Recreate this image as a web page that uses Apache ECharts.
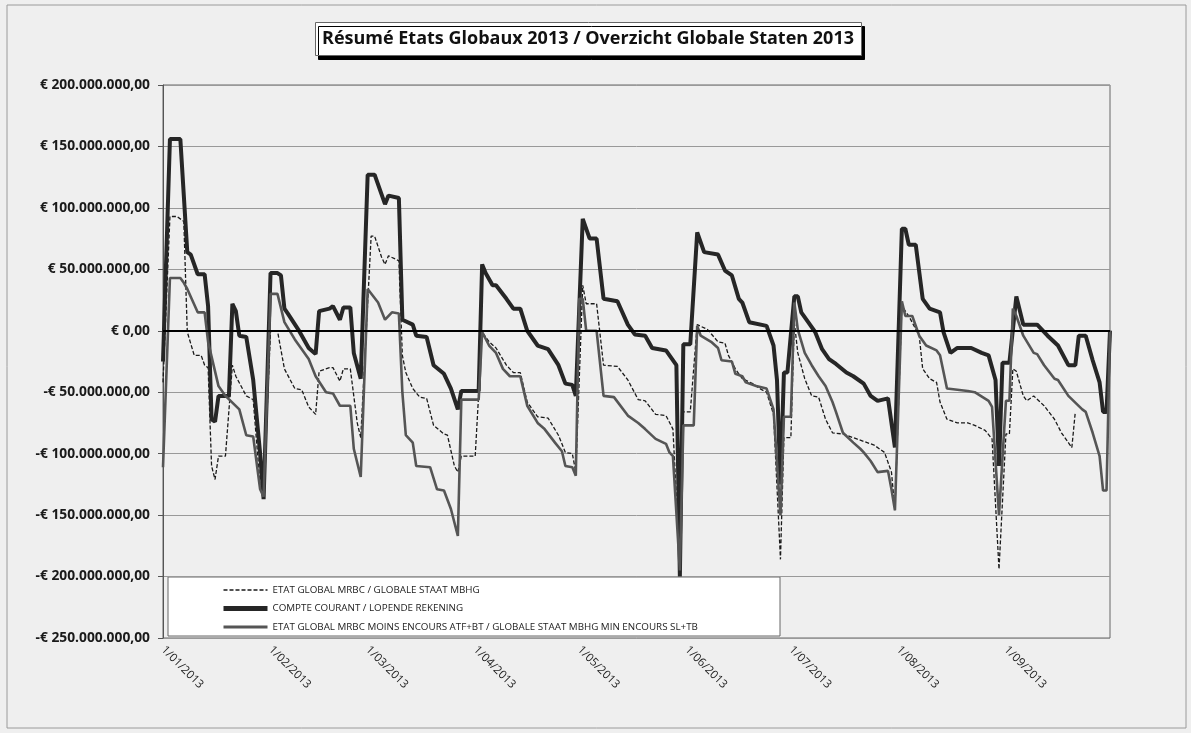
<!DOCTYPE html>
<html lang="fr">
<head>
<meta charset="UTF-8" />
<title>Résumé Etats Globaux 2013</title>
<script src="https://cdn.jsdelivr.net/npm/echarts@6/dist/echarts.min.js"></script>
<style>
  html, body { margin: 0; padding: 0; background: #efefef; }
  #chart { width: 1191px; height: 733px; }
</style>
</head>
<body>
<div id="chart"></div>
<script>
// [jours depuis le 1/01/2013, valeur en millions d'euros]
var etatGlobal = [
  [0,-42],[2,93],[4,93],[6,89],[7,-1],[9,-20],[11,-20],[12,-28],[13,-30],[14,-110],[15,-121],[16,-102],[18,-102],
  [20,-28],[21,-37],[24,-53],[26,-56],[28,-126],[29,-130],[31,0],[33,0],[35,-31],[38,-47],[40,-48],[42,-62],[44,-68],
  [45,-33],[48,-30],[49,-30],[51,-41],[52,-31],[54,-31],[56,-75],[57,-87],[60,77],[61,77],[63,60],[64,54],[65,61],[68,57],
  [69,-20],[70,-34],[72,-47],[74,-54],[76,-55],[78,-77],[81,-84],[82,-85],[84,-110],[85,-115],[86,-102],[90,-102],
  [92,-1],[94,-9],[96,-14],[99,-28],[101,-34],[103,-34],[105,-58],[108,-70],[111,-71],[114,-85],[116,-99],[118,-100],[119,-115],
  [121,37],[122,22],[125,22],[127,-28],[131,-29],[134,-40],[137,-56],[139,-57],[142,-68],[145,-69],[147,-80],[149,-190],
  [150,-66],[152,-66],[154,5],[157,1],[160,-9],[162,-10],[163,-20],[165,-31],[167,-39],[170,-43],[172,-47],[174,-50],[176,-68],[178,-186],
  [179,-87],[181,-87],[182,7],[183,-18],[185,-39],[187,-53],[189,-54],[191,-72],[193,-83],[196,-84],[200,-88],[205,-93],[208,-99],[210,-115],[211,-146],
  [213,20],[215,12],[218,-4],[219,-31],[221,-39],[223,-42],[224,-58],[226,-72],[229,-75],[232,-75],[234,-77],[237,-81],[239,-88],[241,-194],
  [243,-84],[244,-84],[245,-31],[246,-33],[248,-53],[249,-57],[251,-53],[254,-61],[257,-72],[259,-83],[261,-91],[262,-95],[263,-66]
];

var compteCourant = [
  [0,-25],[2,156],[5,156],[7,64],[8,62],[10,46],[12,46],[13,20],[14,-72],[15,-74],[16,-53],[19,-53],[20,22],[21,16],[22,-4],[24,-5],
  [26,-40],[28,-100],[29,-137],[31,47],[33,47],[34,45],[35,18],[36,14],[39,1],[42,-14],[44,-19],[45,16],[48,18],[49,20],
  [51,9],[52,19],[54,19],[55,-18],[57,-39],[59,127],[61,127],[64,103],[65,110],[68,108],[69,9],[72,5],[73,-4],[76,-5],
  [78,-28],[81,-35],[83,-47],[85,-64],[86,-49],[91,-49],[92,54],[93,47],[95,37],[96,37],[99,26],[101,18],[103,18],[105,0],
  [108,-12],[111,-15],[114,-28],[116,-43],[118,-44],[119,-53],[121,91],[123,75],[125,75],[127,26],[131,24],[134,5],
  [136,-3],[139,-4],[141,-14],[145,-16],[148,-28],[149,-200],[150,-11],[152,-11],[154,80],[156,64],[160,62],[162,49],
  [164,45],[166,26],[167,23],[169,7],[174,4],[176,-12],[177,-40],[178,-125],[179,-34],[180,-34],[182,28],[183,28],
  [184,15],[186,7],[188,-1],[190,-15],[192,-23],[194,-27],[197,-34],[199,-37],[202,-43],[204,-53],[206,-57],[209,-55],
  [211,-95],[213,83],[214,83],[215,70],[217,70],[219,26],[221,18],[224,15],[225,-1],[227,-18],[229,-14],[233,-14],
  [236,-18],[238,-20],[240,-40],[241,-110],[242,-26],[244,-26],[246,28],[248,5],[252,5],[255,-4],[258,-12],[261,-28],
  [263,-28],[264,-4],[266,-4],[268,-24],[270,-42],[271,-66],[272,-66],[273,0]
];

var etatMoinsEncours = [
  [0,-111],[2,43],[5,43],[6,39],[7,34],[10,15],[12,15],[13,-9],[16,-45],[18,-53],[22,-64],[24,-85],[26,-86],[28,-129],[29,-135],
  [31,30],[33,30],[35,7],[38,-7],[42,-23],[44,-37],[47,-50],[49,-51],[51,-61],[54,-61],[55,-96],[57,-119],
  [59,34],[62,23],[64,9],[66,15],[68,14],[69,-50],[70,-85],[72,-91],[73,-110],[77,-111],[79,-129],[81,-130],[83,-145],[85,-167],
  [86,-56],[91,-56],[92,-1],[94,-12],[96,-18],[98,-31],[100,-37],[103,-37],[105,-61],[108,-75],[110,-80],[113,-91],[115,-98],
  [116,-110],[118,-111],[119,-118],[120,26],[121,26],[122,0],[125,0],[127,-53],[130,-54],[134,-69],[137,-75],[139,-80],
  [142,-88],[145,-92],[146,-99],[147,-102],[149,-195],[150,-77],[153,-77],[154,4],[155,-4],[158,-9],[160,-14],[161,-24],
  [164,-25],[165,-35],[167,-37],[168,-42],[171,-45],[174,-47],[176,-64],[178,-150],[179,-70],[181,-70],[182,23],[183,1],
  [185,-18],[187,-28],[189,-37],[191,-45],[193,-58],[194,-66],[196,-83],[199,-91],[201,-96],[202,-99],[204,-106],[206,-115],
  [209,-114],[210,-129],[211,-146],[213,24],[214,12],[216,12],[218,-4],[220,-12],[223,-16],[224,-20],[226,-47],[232,-49],
  [234,-50],[238,-57],[239,-62],[241,-150],[243,-57],[244,-57],[245,18],[246,12],[248,-4],[251,-18],[252,-19],[254,-28],
  [257,-39],[258,-40],[261,-53],[265,-64],[266,-66],[268,-83],[270,-102],[271,-130],[272,-130],[273,0]
];

var seriesNames = [
  'ETAT GLOBAL MRBC / GLOBALE STAAT MBHG',
  'COMPTE COURANT / LOPENDE REKENING',
  'ETAT GLOBAL MRBC MOINS ENCOURS ATF+BT / GLOBALE STAAT MBHG MIN ENCOURS SL+TB'
];

var yTicks = { min: -250000000, max: 200000000, step: 50000000 };

function toPoints(arr) {
  return arr.map(function (p) {
    return [+new Date(2013, 0, 1 + p[0]), p[1] * 1000000];
  });
}

function euro(v) {
  var s = String(Math.round(Math.abs(v))).replace(/\B(?=(\d{3})+(?!\d))/g, '.');
  return (v < 0 ? '-' : '') + '€ ' + s + ',00';
}

function dateLabel(v) {
  var d = new Date(v);
  var m = d.getMonth() + 1;
  return d.getDate() + '/' + (m < 10 ? '0' + m : m) + '/' + d.getFullYear();
}

var chart = echarts.init(document.getElementById('chart'));

var option = {
  backgroundColor: '#efefef',
  textStyle: { fontFamily: 'Open Sans' },
  animation: false,
  title: {
    text: 'Résumé Etats Globaux 2013 / Overzicht Globale Staten 2013',
    left: 315,
    top: 22,
    padding: [8, 8, 8, 7],
    backgroundColor: '#fff',
    borderColor: '#666',
    borderWidth: 1,
    shadowColor: '#000',
    shadowBlur: 0,
    shadowOffsetX: 3,
    shadowOffsetY: 4,
    textStyle: { fontSize: 18, fontWeight: 'bold', color: '#111', fontFamily: 'Open Sans' }
  },
  graphic: [
    {
      type: 'rect', z: 0,
      shape: { x: 7, y: 5, width: 1179, height: 723 },
      style: { fill: 'none', stroke: '#9a9a9a', lineWidth: 1 }
    },
    {
      type: 'rect', z: 0,
      shape: { x: 168, y: 577, width: 612, height: 59 },
      style: { fill: '#fff', stroke: '#666', lineWidth: 1 }
    }
  ],
  legend: {
    data: [
      { name: seriesNames[0], lineStyle: { width: 1.5 } },
      { name: seriesNames[1], lineStyle: { width: 5 } },
      { name: seriesNames[2], lineStyle: { width: 3 } }
    ],
    orient: 'vertical',
    left: 216,
    top: 580,
    itemWidth: 44,
    itemHeight: 11,
    itemGap: 8.5,
    itemStyle: { opacity: 0 },
    textStyle: { fontSize: 9.8, color: '#222', fontFamily: 'Open Sans' }
  },
  grid: {
    left: 163,
    right: 81,
    top: 85,
    bottom: 95,
    show: true,
    borderColor: '#666',
    borderWidth: 1
  },
  xAxis: {
    type: 'time',
    min: +new Date(2013, 0, 1),
    max: +new Date(2013, 9, 1),
    minInterval: 28 * 86400000,
    maxInterval: 31 * 86400000,
    axisLine: { show: true, lineStyle: { color: '#666' } },
    axisTick: { show: false },
    splitLine: { show: false },
    axisLabel: {
      rotate: -45,
      margin: 10,
      fontSize: 11.5,
      color: '#222',
      showMaxLabel: false,
      formatter: dateLabel
    }
  },
  yAxis: {
    type: 'value',
    min: yTicks.min,
    max: yTicks.max,
    interval: yTicks.step,
    axisLine: { show: true, lineStyle: { color: '#555' } },
    axisTick: { show: true, length: 5, lineStyle: { color: '#555' } },
    splitLine: { lineStyle: { color: '#999', width: 1 } },
    axisLabel: {
      margin: 13,
      fontSize: 13.8,
      fontWeight: 'bold',
      color: '#1a1a1a',
      formatter: euro
    }
  },
  series: [
    {
      name: seriesNames[0],
      type: 'line',
      symbol: 'none',
      data: toPoints(etatGlobal),
      lineStyle: { color: '#1a1a1a', width: 1.3, type: [4, 2] },
      itemStyle: { color: '#1a1a1a' }
    },
    {
      name: seriesNames[1],
      type: 'line',
      symbol: 'none',
      data: toPoints(compteCourant),
      lineStyle: { color: '#262626', width: 4 },
      itemStyle: { color: '#262626' },
      markLine: {
        silent: true,
        symbol: 'none',
        label: { show: false },
        lineStyle: { color: '#000', width: 2, type: 'solid' },
        data: [{ yAxis: 0 }]
      }
    },
    {
      name: seriesNames[2],
      type: 'line',
      symbol: 'none',
      data: toPoints(etatMoinsEncours),
      lineStyle: { color: '#555', width: 2.6 },
      itemStyle: { color: '#555' }
    }
  ]
};

chart.setOption(option);
</script>
</body>
</html>
